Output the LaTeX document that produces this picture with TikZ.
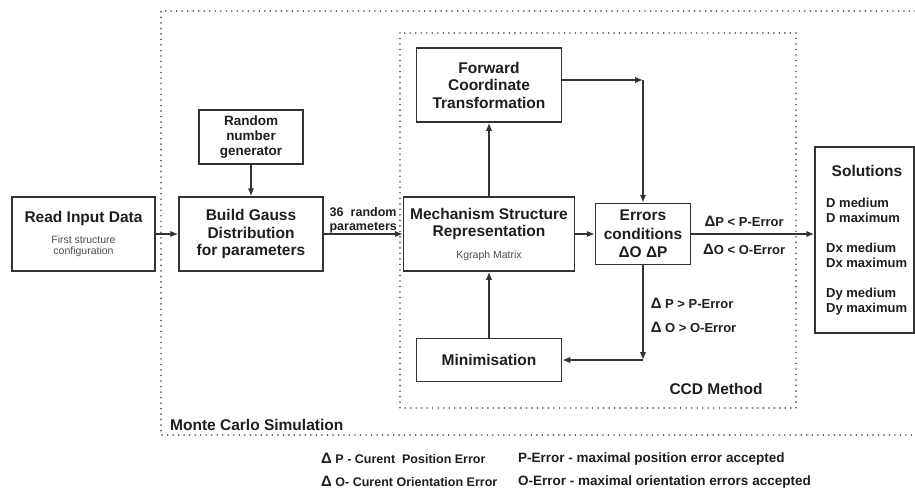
\documentclass[tikz,border=0pt]{standalone}
\usepackage{fontspec}
\setmainfont{Liberation Sans}
\usepackage{xcolor}
\definecolor{ink}{HTML}{1E1E1E}
\definecolor{lineink}{HTML}{333333}
\definecolor{dotink}{HTML}{5A5A5A}
\usetikzlibrary{arrows.meta,positioning}
\newcommand{\fsz}[2]{\fontsize{#1}{#2}\selectfont}
\newcommand{\dlt}{{\fsz{15}{15}Δ}}

\begin{document}
\begin{tikzpicture}[x=1pt,y=-1pt,>={Latex[length=8pt,width=6.5pt]}]
\tikzset{
 procbox/.style={draw=lineink,line width=1.5pt,inner sep=0pt,align=center,text=ink,font=\fsz{15.5}{17.5}\bfseries},
 arrow/.style={->,draw=lineink,line width=1.5pt},
 dotframe/.style={draw=dotink,line width=1.8pt,dash pattern=on 0.01pt off 5.5pt,line cap=round},
 lbl/.style={text=ink,font=\fsz{15.5}{17.5}\bfseries,inner sep=0pt},
 cond/.style={text=ink,font=\fsz{13}{15}\bfseries,inner sep=0pt}
}
\useasboundingbox (0,0) rectangle (915,493);
% frames
\draw[dotframe] (915,11) -- (161,11) -- (161,435) -- (915,435);
\draw[dotframe] (400,33) rectangle (796,408);
\node[lbl,anchor=west] (mclbl) at (170,425) {Monte Carlo Simulation};
\node[lbl] (ccdlbl) at (716,389) {CCD Method};
% blocks
\node[procbox,minimum width=143pt,minimum height=74pt] (read) at (83.5,234)
 {Read Input Data\\[4pt]{\fsz{10.5}{11.5}\mdseries\color{ink!80}First structure}\\[-6.5pt]{\fsz{10.5}{11.5}\mdseries\color{ink!80}configuration}};
\node[procbox,minimum width=144pt,minimum height=74pt] (gauss) at (251,234) {Build Gauss\\Distribution\\for parameters};
\node[procbox,minimum width=104pt,minimum height=54pt,font=\fsz{13.5}{15}\bfseries] (rng) at (251,137) {Random\\number\\generator};
\node[procbox,minimum width=171pt,minimum height=74pt] (mech) at (489,234)
 {Mechanism Structure\\Representation\\[4pt]{\fsz{10.5}{11.5}\mdseries\color{ink!80}Kgraph Matrix}};
\node[procbox,minimum width=145pt,minimum height=74pt] (fwd) at (489,85) {Forward\\Coordinate\\Transformation};
\node[procbox,minimum width=145pt,minimum height=43pt] (mini) at (489,360) {Minimisation};
\node[procbox,minimum width=95pt,minimum height=61pt,font=\fsz{15.5}{18.5}\bfseries] (err) at (643,234) {Errors\\conditions\\ΔO ΔP};
\node[procbox,minimum width=99pt,minimum height=186pt] (sol) at (864.5,240) {};
\node[lbl] (soltitle) at (867,171) {Solutions};
\node[cond,anchor=north west,align=left] (solitems) at (826,198)
 {D medium\\D maximum\\[15pt]Dx medium\\Dx maximum\\[15pt]Dy medium\\Dy maximum};
% connectors
\coordinate (fc) at (643,80);
\coordinate (ec) at (643,360);
\draw[arrow] (read) -- (gauss);
\draw[arrow] (rng) -- (gauss);
\draw[arrow] (gauss) -- node[cond,above=0pt,align=left,font=\fsz{12.5}{14.5}\bfseries]
 {\makebox[67pt][s]{36 random}\\parameters} (mech);
\draw[arrow] (mech) -- (err);
\draw[arrow] (mech) -- (fwd);
\draw[arrow] (mini) -- (mech);
\draw[arrow] (fwd.east |- fc) -- (fc);
\draw[arrow] (fc) -- (err);
\draw[arrow] (err) -- node[cond,right=7pt,align=left,pos=0.53,font=\fsz{13}{24}\bfseries]
 {\dlt\ P > P-Error\\\dlt\ O > O-Error} (ec);
\draw[arrow] (ec) -- (mini);
\draw[arrow] (err) -- node[cond,above=7pt,pos=0.43]{\dlt P < P-Error}
 node[cond,below=9pt,pos=0.43]{\dlt O < O-Error} (err -| sol.west);
% legend
\node[cond,anchor=west,font=\fsz{12.5}{14}\bfseries] (leg1) at (321,458) {\dlt\ P - Curent\ \ Position Error};
\node[cond,anchor=west,font=\fsz{12.5}{14}\bfseries] (leg2) at (321,481) {\dlt\ O- Curent Orientation Error};
\node[cond,anchor=west,font=\fsz{13.5}{15}\bfseries] (leg3) at (518,459) {P-Error - maximal position error accepted};
\node[cond,anchor=west,font=\fsz{13.5}{15}\bfseries] (leg4) at (518,482) {O-Error - maximal orientation errors accepted};
\end{tikzpicture}
\end{document}
